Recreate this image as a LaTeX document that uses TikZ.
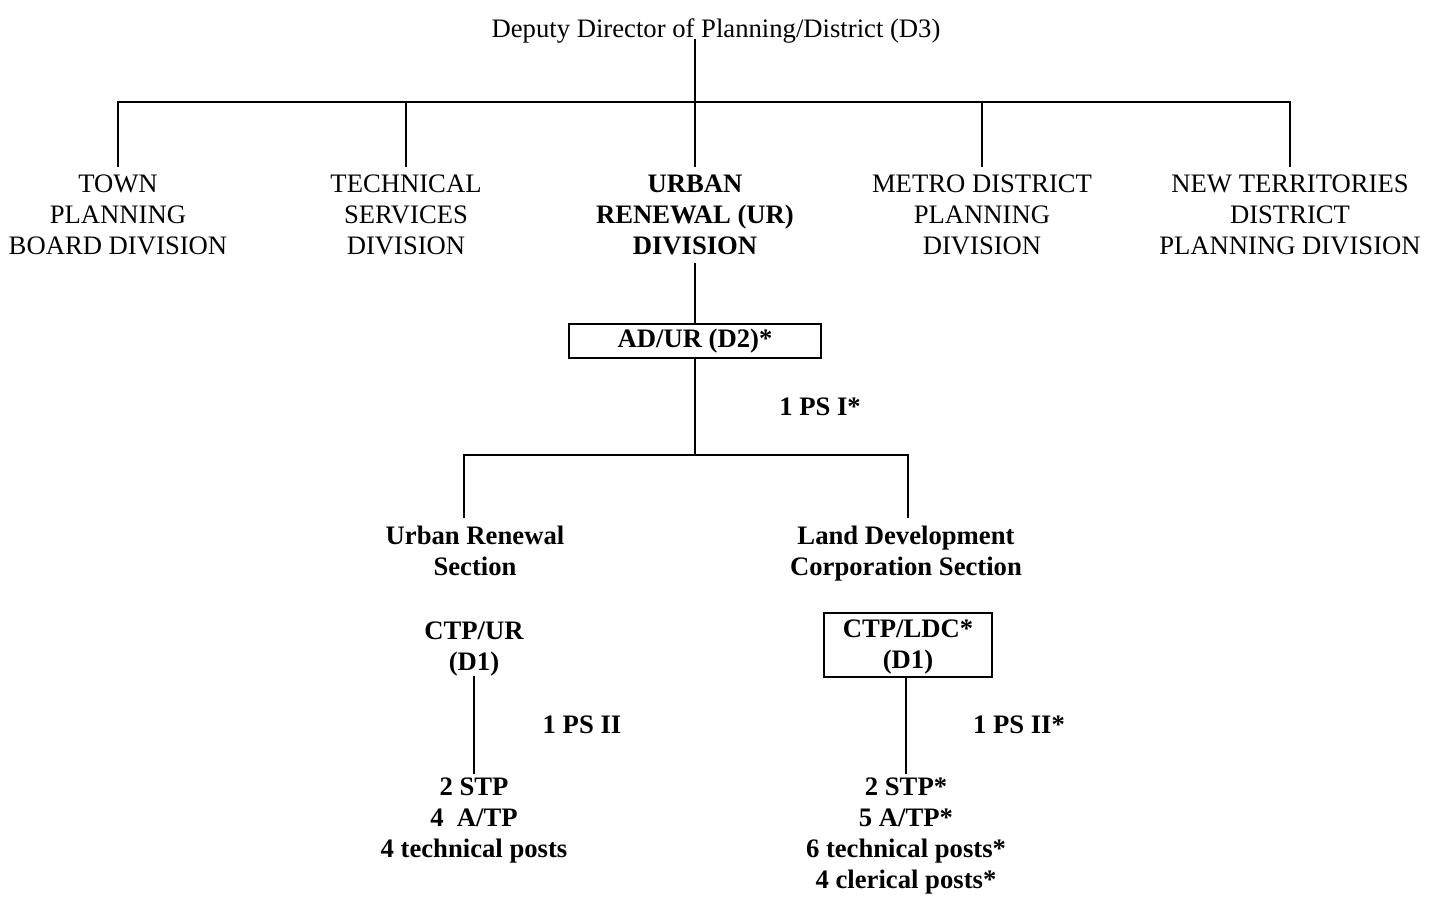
\documentclass[tikz,border=0pt]{standalone}
\usepackage{fontspec}
\setmainfont{Liberation Serif}
\usepackage{tikz}
\usetikzlibrary{positioning}

\begin{document}
\begin{tikzpicture}[
    x=0.45pt, y=-0.45pt,
    line width=0.9pt, line cap=rect,
    txt/.style={align=center, inner sep=0pt, font=\fontsize{12}{14}\selectfont},
    boldtxt/.style={txt, font=\fontsize{12}{14}\selectfont\bfseries},
    divtxt/.style={txt, anchor=north, outer sep=4pt},
    secttxt/.style={boldtxt, anchor=north, outer sep=4pt},
    stafftxt/.style={boldtxt, anchor=north, outer sep=2pt},
    postbox/.style={boldtxt, draw, rectangle, line cap=butt},
]
\useasboundingbox (0,0) rectangle (1437,897);

\node[txt, anchor=base, text depth=1pt] (dd) at (716,37) {Deputy Director of Planning/District (D3)};
\coordinate (top) at (695,102);

\node[divtxt] (tpb) at (118,166) {TOWN\\PLANNING\\BOARD DIVISION};
\node[divtxt] (tsd) at (406,166) {TECHNICAL\\SERVICES\\DIVISION};
\node[divtxt, font=\fontsize{12}{14}\selectfont\bfseries] (urd) at (695,166) {URBAN\\RENEWAL (UR)\\DIVISION};
\node[divtxt] (mdp) at (982,166) {METRO DISTRICT\\PLANNING\\DIVISION};
\node[divtxt] (ntd) at (1290,166) {NEW TERRITORIES\\DISTRICT\\PLANNING DIVISION};

\node[postbox, minimum width=113pt, minimum height=15.3pt] (adur) at (695,341) {AD/UR (D2)*};
\node[boldtxt] (psi) at (820,407) {1 PS I*};

\coordinate (mid) at (695,455);
\coordinate (midl) at (464,455);
\coordinate (midr) at (908,455);

\node[secttxt] (urs) at (475,517) {Urban Renewal\\Section};
\node[secttxt] (ldcs) at (906,517) {Land Development\\Corporation Section};

\node[boldtxt] (ctpur) at (474,649) {CTP/UR\\(D1)};
\node[postbox, minimum width=76pt, minimum height=28.8pt] (ctpldc) at (908,645) {\rule{0pt}{10pt}CTP/LDC*\\(D1)};

\node[boldtxt] (psiiur) at (582,725) {1 PS II};
\node[boldtxt] (psiildc) at (1019,725) {1 PS II*};

\node[stafftxt] (urstaff) at (474,773) {2 STP\\4\ \ A/TP\\4 technical posts};
\node[stafftxt] (ldcstaff) at (906,773) {2 STP*\\5 A/TP*\\6 technical posts*\\4 clerical posts*};

\draw (dd.south -| top) -- (top);
\draw (tpb.north |- top) -- (ntd.north |- top);
\foreach \d in {tpb,tsd,urd,mdp,ntd}
  \draw (\d.north |- top) -- (\d.north);
\draw (urd.south) -- (adur.north);
\draw (adur.south) -- (mid);
\draw (midl) -- (midr);
\draw (midl) -- (midl |- urs.north);
\draw (midr) -- (midr |- ldcs.north);
\draw (ctpur.south) -- (urstaff.north);
\draw (ctpldc.south -| ldcstaff.north) -- (ldcstaff.north);

\end{tikzpicture}
\end{document}
